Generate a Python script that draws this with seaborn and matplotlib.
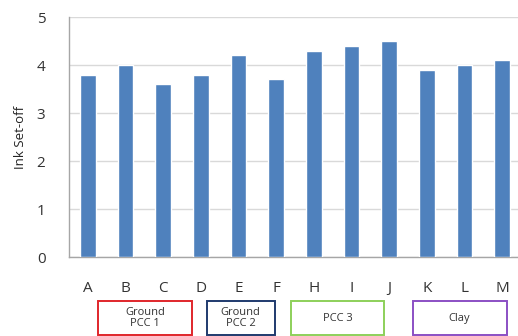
import matplotlib
matplotlib.use("Agg")
import matplotlib.pyplot as plt
import matplotlib.transforms as mtransforms
from matplotlib.patches import Rectangle
import seaborn as sns
import pandas as pd

# Ink set-off per sample
samples = ["A", "B", "C", "D", "E", "F", "H", "I", "J", "K", "L", "M"]
set_off = [3.8, 4.0, 3.6, 3.8, 4.2, 3.7, 4.3, 4.4, 4.5, 3.9, 4.0, 4.1]

# Filler groups shown beneath the axis: label, x-span (category units), edge colour
group_labels = ["Ground\nPCC 1", "Ground\nPCC 2", "PCC 3", "Clay"]
group_spans = [(0.27, 2.76), (3.16, 4.96), (5.39, 7.86), (8.62, 11.12)]
group_colors = ["#E0262B", "#1F3A6E", "#8DD05A", "#8B4FC4"]

sns.set_theme(style="white")
plt.rcParams["font.family"] = ["Open Sans", "DejaVu Sans"]

df = pd.DataFrame({"sample": samples, "set_off": set_off})

fig = plt.figure(figsize=(5.18, 3.36), dpi=100)
ax = fig.add_axes([0.1332, 0.2351, 0.8726, 0.7143])

sns.barplot(data=df, x="sample", y="set_off", color="#4F81BD", width=0.42,
            saturation=1, ax=ax, zorder=3)

ax.set_ylim(0, 5)
ax.set_xlim(-0.5, len(samples) - 0.5)
ax.set_yticks(range(0, 6))
ax.yaxis.grid(True, color="#D9D9D9", linewidth=1.0, zorder=0)
ax.set_axisbelow(True)

for side in ["top", "right"]:
    ax.spines[side].set_visible(False)
for side in ["left", "bottom"]:
    ax.spines[side].set_color("#A6A6A6")
    ax.spines[side].set_linewidth(1.0)

# category boundary ticks on x, labels centred under the bars
ax.set_xticks([i + 0.5 for i in range(-1, len(samples))], minor=True)
ax.tick_params(axis="x", which="minor", length=5, color="#A6A6A6", width=1, direction="out")
ax.tick_params(axis="x", which="major", length=0, pad=17, labelsize=11, labelcolor="#333333")
ax.tick_params(axis="y", length=5, color="#A6A6A6", width=1, direction="out",
               labelsize=11, labelcolor="#333333", pad=12)

ax.set_xlabel("")
ax.set_ylabel("Ink Set-off", fontsize=9.5, color="#222222", labelpad=7)

trans = mtransforms.blended_transform_factory(ax.transData, ax.transAxes)
for label, (x0, x1), col in zip(group_labels, group_spans, group_colors):
    y0, y1 = -0.325, -0.185
    ax.add_patch(Rectangle((x0, y0), x1 - x0, y1 - y0, transform=trans,
                           fill=False, edgecolor=col, linewidth=1.4, clip_on=False))
    ax.text((x0 + x1) / 2, (y0 + y1) / 2, label, transform=trans, ha="center",
            va="center", fontsize=8, color="#333333", linespacing=1.0)

fig.savefig("out.png", dpi=100)
